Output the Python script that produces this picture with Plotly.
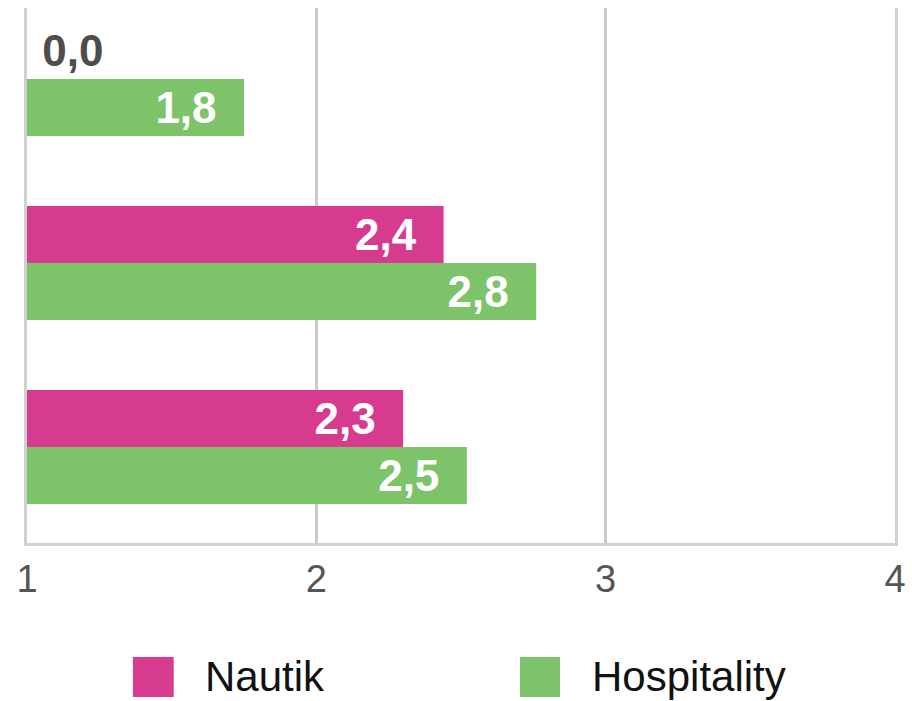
import plotly.graph_objects as go

categories = ["Gruppe 1", "Gruppe 2", "Gruppe 3"]
series_names = ["Nautik", "Hospitality"]
nautik = [0.0, 2.44, 2.30]
hospitality = [1.75, 2.76, 2.52]
x_ticks = [1, 2, 3, 4]

colors = {"Nautik": "#D63B8F", "Hospitality": "#7CC36A"}
BASE = 1
NBSP = "\u00a0"


def fmt(v):
    return f"{v:.1f}".replace(".", ",")


fig = go.Figure()
for name, vals in zip(series_names, [nautik, hospitality]):
    fig.add_trace(go.Bar(
        y=categories,
        x=[v - BASE if v > 0 else 0 for v in vals],
        base=BASE,
        orientation="h",
        name=name,
        marker=dict(color=colors[name], line=dict(width=0)),
        text=[fmt(v) + NBSP * 2 if v > 0 else NBSP + fmt(v) for v in vals],
        textposition=["inside" if v > 0 else "outside" for v in vals],
        insidetextanchor="end",
        insidetextfont=dict(color="white", size=44, family="Liberation Sans"),
        outsidetextfont=dict(color="#4d4d4d", size=44, family="Liberation Sans"),
        texttemplate="<b>%{text}</b>",
        cliponaxis=False,
        showlegend=False,
        hoverinfo="skip",
    ))

# legend drawn as shapes + annotations
legend_items = [("Nautik", 0.122, 0.169, 0.203), ("Hospitality", 0.568, 0.614, 0.649)]
for name, x0, x1, tx in legend_items:
    fig.add_shape(type="rect", xref="paper", yref="paper", x0=x0, x1=x1,
                  y0=-0.288, y1=-0.213, fillcolor=colors[name], line=dict(width=0))
    fig.add_annotation(xref="paper", yref="paper", x=tx, y=-0.250, text=name,
                       showarrow=False, xanchor="left", yanchor="middle",
                       font=dict(size=42, color="#111111", family="Liberation Sans"))

fig.update_layout(
    width=912, height=701,
    margin=dict(l=27, r=17, t=8, b=158, autoexpand=False),
    plot_bgcolor="white", paper_bgcolor="white",
    barmode="group", bargap=0.38, bargroupgap=0,
    xaxis=dict(range=[1, 4], tickvals=x_ticks, ticktext=[str(t) for t in x_ticks],
               showgrid=True, gridcolor="#c9cbcd", gridwidth=3,
               showline=True, linecolor="#cfd1d3", linewidth=3,
               zeroline=False, ticks="", automargin=False,
               tickfont=dict(size=38, color="#555555", family="Liberation Sans")),
    yaxis=dict(categoryorder="array", categoryarray=categories,
               range=[2.522, -0.386], showticklabels=False, showgrid=False,
               zeroline=False, showline=True, mirror=True,
               linecolor="#cdcfd1", linewidth=3, automargin=False),
    showlegend=False,
)

fig.write_html("out.html", config={"displayModeBar": False},
               post_script="document.body.style.margin='0';document.body.style.overflow='hidden';")
